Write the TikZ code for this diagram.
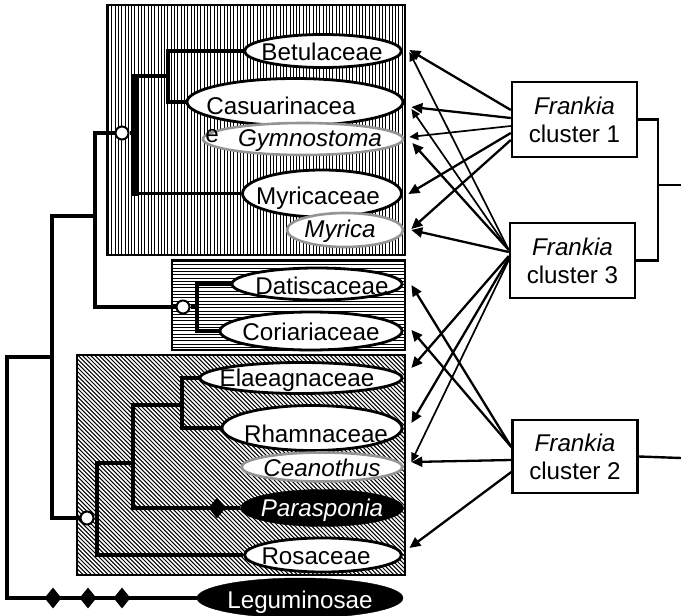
\documentclass[tikz,border=0pt]{standalone}
\usepackage{fontspec}
\setmainfont{Liberation Sans}
\usetikzlibrary{shapes.geometric,arrows.meta}
\begin{document}
\begin{tikzpicture}[x=1pt,y=-1pt,
  fam/.style={ellipse, draw=black, line width=2.8pt, fill=white, inner sep=0pt},
  gen/.style={ellipse, draw=black!42, line width=2.6pt, fill=white, inner sep=0pt},
  famb/.style={ellipse, draw=black, fill=black, inner sep=0pt},
  lbl/.style={inner sep=0pt, font=\fontsize{24.2}{28}\selectfont},
  ilbl/.style={inner sep=0pt, font=\fontsize{24.2}{28}\selectfont\itshape},
  frank/.style={draw, line width=2.4pt, fill=white, minimum width=125pt, minimum height=75pt, align=center, inner sep=0pt, font=\fontsize{24.2}{28}\selectfont},
  circnode/.style={circle, draw, line width=2pt, fill=white, minimum size=13pt, inner sep=0pt},
  dmd/.style={diamond, fill=black, minimum width=17pt, minimum height=21pt, inner sep=0pt},
  tree/.style={line width=3.6pt, line join=miter},
  treethick/.style={line width=5.5pt},
  roottree/.style={line width=4.2pt, line join=miter},
  arr/.style={line width=2.3pt, -{Triangle[length=11pt,width=10pt]}},
  arrthin/.style={line width=1.7pt, -{Triangle[length=9pt,width=8pt]}},
  stripe/.style={line width=1.0pt},
  hatch/.style={line width=1.0pt},
  boxedge/.style={line width=1.6pt}
]
\useasboundingbox (0,0) rectangle (681,616);

% ---------- shaded boxes ----------
\begin{scope}
  \clip (107,5) rectangle (405,255);
  \foreach \i in {0,...,91} \draw[stripe] (108.5+\i*3.3,5) -- ++(0,250);
\end{scope}
\draw[boxedge] (107,5) rectangle (405,255);

\begin{scope}
  \clip (172,260) rectangle (405,350);
  \foreach \i in {0,...,28} \draw[stripe] (172,261.5+\i*3.3) -- ++(233,0);
\end{scope}
\draw[boxedge] (172,260) rectangle (405,350);
\draw[line width=3pt] (172,260) -- (405,260);

\begin{scope}
  \clip (77,355) rectangle (405,575);
  \foreach \i in {0,...,132} \draw[hatch] (-145+\i*4.2,355) -- ++(220,220);
\end{scope}
\draw[boxedge] (77,355) rectangle (405,575);

% ---------- taxa ----------
\node[fam, minimum width=157pt, minimum height=33pt] (betu) at (323,51) {};
\node[fam, minimum width=216pt, minimum height=47pt] (casu) at (295,102) {};
\node[gen, minimum width=200pt, minimum height=32pt] (gym) at (303,139) {};
\node[fam, minimum width=159pt, minimum height=47pt] (myr) at (322,193.5) {};
\node[gen, minimum width=116pt, minimum height=34pt] (myrica) at (345,230) {};
\node[fam, minimum width=170pt, minimum height=32pt] (dat) at (317,284) {};
\node[fam, minimum width=182pt, minimum height=38pt] (cor) at (311,331) {};
\node[fam, minimum width=202pt, minimum height=31pt] (ela) at (301,378) {};
\node[fam, minimum width=180pt, minimum height=45pt] (rham) at (312,428) {};
\node[gen, minimum width=161pt, minimum height=29pt] (cean) at (322,467) {};
\node[famb, minimum width=163pt, minimum height=37pt] (para) at (322,508) {};
\node[fam, minimum width=157pt, minimum height=34pt] (rosa) at (323,555) {};
\node[famb, minimum width=206pt, minimum height=40pt] (legu) at (300,598) {};

\node[lbl] (tbetu) at (322,52) {Betulaceae};
\node[lbl] (tcasu) at (281,106) {Casuarinacea};
\node[lbl] (tcasue) at (212,136) {e};
\node[ilbl] (tgym) at (310,141) {Gymnostoma};
\node[lbl] (tmyr) at (318,198) {Myricaceae};
\node[ilbl] (tmyrica) at (340,231) {Myrica};
\node[lbl] (tdat) at (322,286) {Datiscaceae};
\node[lbl] (tcor) at (311,332) {Coriariaceae};
\node[lbl] (tela) at (297,380) {Elaeagnaceae};
\node[lbl] (trham) at (316,434) {Rhamnaceae};
\node[ilbl] (tcean) at (322,468) {Ceanothus};
\node[ilbl, text=white] (tpara) at (322,510) {Parasponia};
\node[lbl] (trosa) at (316,556) {Rosaceae};
\node[lbl, text=white] (tlegu) at (300,602) {Leguminosae};

% ---------- tree ----------
\node[circnode] (n1) at (122,133) {};
\node[circnode] (n2) at (183,307) {};
\node[circnode] (n3) at (87,518) {};

\draw[tree] (betu.west) -| (168,102) -- (casu.west);
\draw[tree] (168,76) -- (133,76);
\draw[treethick] (135,74) -- (135,196);
\draw[tree] (133,193.5) -- (myr.west);
\draw[tree] (n1.east) -- (135,133);
\draw[tree] (n1.west) -- (95,133) -- (95,307) -- (n2.west);
\draw[tree] (n2.east) -- (197,307);
\draw[tree] (dat.west) -| (197,331) -- (cor.west);
\draw[tree] (95,216) -- (52,216);
\draw[roottree] (52,214) -- (52,518) -- (n3.west);
\draw[roottree] (52,357) -- (7,357) -- (7,598) -- (legu.west);
\node[dmd] (d1) at (53,598) {};
\node[dmd] (d2) at (88,598) {};
\node[dmd] (d3) at (122,598) {};

\draw[tree] (n3.east) -- (97,518);
\draw[tree] (133,463) -- (97,463) -- (97,555) -- (rosa.west);
\draw[tree] (182,405) -- (133,405) -- (133,508) -- (para.west);
\node[dmd] (d4) at (217,508) {};
\draw[tree] (ela.west) -| (182,428) -- (rham.west);

% ---------- Frankia clusters ----------
\node[frank] (c1) at (574.5,119.5) {\itshape Frankia\\cluster 1};
\node[frank] (c3) at (572.5,260.5) {\itshape Frankia\\cluster 3};
\node[frank, minimum height=73pt] (c2) at (575,456.5) {\itshape Frankia\\cluster 2};

\coordinate (brk) at (658,185);
\coordinate (rt1) at (681,185);
\coordinate (rt2) at (681,458);
\draw[line width=2.4pt] (c1.east) -| (brk) |- (c3.east);
\draw[line width=2.4pt] (brk) -- (rt1);
\draw[line width=2.4pt] (c2.east) -- (rt2);

% ---------- arrows ----------
% cluster 1
\draw[arr] ([yshift=9.5pt]c1.west) -- ([xshift=6.5pt,yshift=1pt]betu.east);
\draw[arr] ([yshift=1.5pt]c1.west) -- ([xshift=7pt,yshift=-5pt]casu.east);
\draw[arrthin] ([yshift=-6.5pt]c1.west) -- ([xshift=5pt,yshift=2pt]gym.east);
\draw[arr] ([yshift=-13.5pt]c1.west) -- ([xshift=5.5pt,yshift=-0.5pt]myr.east);
\draw[arr] ([yshift=-20.5pt]c1.west) -- ([xshift=7pt,yshift=1pt]myrica.east);
% cluster 3
\draw[arrthin] ([yshift=10.5pt]c3.west) -- ([xshift=6.5pt,yshift=-1pt]betu.east);
\draw[arrthin] ([yshift=10.5pt]c3.west) -- ([xshift=7pt,yshift=-7pt]casu.east);
\draw[arr] ([yshift=10.5pt]c3.west) -- ([xshift=8pt,yshift=-4pt]gym.east);
\draw[arr] ([yshift=8.5pt]c3.west) -- ([xshift=7pt]myrica.east);
\draw[arr] ([yshift=4.5pt]c3.west) -- ([xshift=8pt,yshift=10pt]ela.east);
\draw[arr] ([yshift=2.5pt]c3.west) -- ([xshift=8pt,yshift=5pt]rham.east);
\draw[arrthin] ([yshift=0.5pt]c3.west) -- ([xshift=7.5pt,yshift=5pt]cean.east);
% cluster 2
\draw[arr] ([yshift=9.5pt]c2.west) -- ([xshift=8pt,yshift=-1pt]dat.east);
\draw[arr] ([yshift=9.5pt]c2.west) -- ([xshift=8pt,yshift=1pt]cor.east);
\draw[arr] ([yshift=-3.5pt]c2.west) -- ([xshift=7.5pt,yshift=5pt]cean.east);
\draw[arr] ([yshift=-15.5pt]c2.west) -- ([xshift=6.5pt,yshift=7pt]rosa.east);
\end{tikzpicture}
\end{document}
